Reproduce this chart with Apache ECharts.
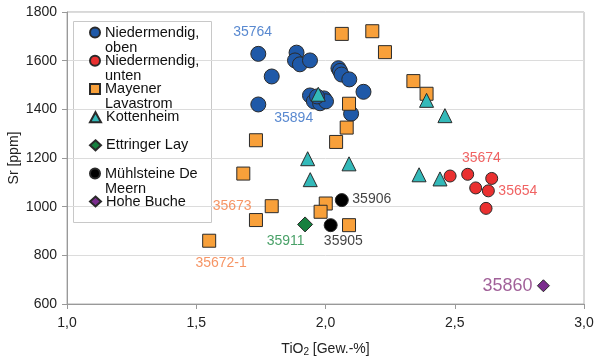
<!DOCTYPE html>
<html>
<head>
<meta charset="utf-8">
<script src="https://cdn.jsdelivr.net/npm/echarts@6/dist/echarts.min.js"></script>
<style>html,body{margin:0;padding:0;background:#fff}#c{width:600px;height:359px}</style>
</head>
<body>
<div id="c"></div>
<script>
// ---- data (TiO2 [Gew.-%], Sr [ppm]) ----
const nmOben = [[1.740,1628],[1.888,1633],[1.882,1601],[1.901,1585],[1.940,1601],[1.792,1535],[2.050,1569],[2.056,1558],[2.062,1543],[2.092,1523],[2.147,1472],[1.740,1420],[1.940,1457],[1.955,1433],[1.979,1425],[1.994,1445],[2.002,1433],[1.967,1453],[2.099,1382]];
const nmUnten = [[2.482,1126],[2.550,1133],[2.643,1116],[2.581,1077],[2.630,1065],[2.621,993]];
const mayener = [[2.063,1710],[2.181,1721],[2.230,1635],[2.340,1516],[2.391,1464],[2.091,1423],[2.082,1325],[1.731,1273],[2.041,1266],[1.682,1136],[1.792,1002],[2.001,1013],[1.981,979],[2.091,924],[1.731,945],[1.550,860]];
const kottenheim = [[1.972,1462],[2.391,1437],[2.462,1374],[1.931,1197],[2.091,1176],[1.941,1111],[2.362,1131],[2.443,1114]];
const ettringer = [[1.921,927]];
const muehlsteine = [[2.063,1027],[2.020,924]];
const hoheBuche = [[2.843,675]];
const seriesNames = ['Niedermendig, oben','Niedermendig, unten','Mayener Lavastrom','Kottenheim','Ettringer Lay','Mühlsteine De Meern','Hohe Buche'];
const legendLines = [['Niedermendig,','oben'],['Niedermendig,','unten'],['Mayener','Lavastrom'],['Kottenheim',' '],['Ettringer Lay',' '],['Mühlsteine De','Meern'],['Hohe Buche',' ']];
const annotations = [[1.718,1716,'35764'],[1.877,1363,'35894'],[1.639,1003,'35673'],[1.596,768,'35672-1'],[1.846,860,'35911'],[2.069,858,'35905'],[2.179,1030,'35906'],[2.603,1198,'35674'],[2.744,1065,'35654'],[2.704,675,'35860']];
const xTicks = [1.0,1.5,2.0,2.5,3.0];
const yTicks = [600,800,1000,1200,1400,1600,1800];

// ---- styles ----
const FONT = 'Liberation Sans, Arial, sans-serif';
const seriesStyle = [
  {symbol:'circle', size:15, color:'#1f59a8', icon:'circle', iw:10},
  {symbol:'circle', size:12, color:'#ea3030', icon:'circle', iw:10},
  {symbol:'rect', size:13, color:'#f8a03a', icon:'rect', iw:10},
  {symbol:'triangle', size:14, color:'#33b9b9', icon:'triangle', iw:11},
  {symbol:'diamond', size:15, color:'#16803f', icon:'diamond', iw:11},
  {symbol:'circle', size:13, color:'#000000', icon:'circle', iw:10},
  {symbol:'diamond', size:12, color:'#7b2d8e', icon:'diamond', iw:11}
];
const labelStyle = {
  '35764':{c:'#2f6cc4',s:14}, '35894':{c:'#2f6cc4',s:14},
  '35673':{c:'#f47b3e',s:14}, '35672-1':{c:'#f47b3e',s:14},
  '35911':{c:'#1b8a42',s:14}, '35905':{c:'#111111',s:14}, '35906':{c:'#111111',s:14},
  '35674':{c:'#ec3b3b',s:14}, '35654':{c:'#ec3b3b',s:14},
  '35860':{c:'#8a3a80',s:18}
};
const seriesData = [nmOben, nmUnten, mayener, kottenheim, ettringer, muehlsteine, hoheBuche];
const legendCenters = [32.5, 60.8, 89, 117.2, 145.3, 173.5, 201.5];

const series = seriesData.map((d,i)=>({
  type:'scatter', name:seriesNames[i], data:d,
  symbol:seriesStyle[i].symbol, symbolSize:seriesStyle[i].size,
  itemStyle:{color:seriesStyle[i].color, borderColor:'#2a2a2a', borderWidth:1, opacity:1},
  emphasis:{disabled:true}
}));
series.push({
  type:'scatter', name:'labels', silent:true, symbolSize:0, z:5,
  data: annotations.map(a=>({value:[a[0],a[1]], name:a[2],
    label:{show:true, position:'inside', formatter:a[2], color:labelStyle[a[2]].c, fontSize:labelStyle[a[2]].s, fontFamily:FONT}})),
  label:{show:true}
});

const legends = seriesNames.map((n,i)=>({
  data:[{name:n, icon:seriesStyle[i].icon}],
  orient:'vertical', left:89, top: legendCenters[i]-22.5, padding:0,
  itemWidth:seriesStyle[i].iw, itemHeight:10, selectedMode:false,
  formatter: ()=> ' \n' + legendLines[i].join('\n'),
  textStyle:{fontSize:14.5, lineHeight:15, color:'#111', fontFamily:FONT}
}));

const chart = echarts.init(document.getElementById('c'), null, {renderer:'canvas'});
chart.setOption({
  animation:false,
  backgroundColor:'#fff',
  textStyle:{fontFamily:FONT},
  grid:{left:67, right:16, top:12, bottom:55, containLabel:false, outerBoundsMode:'none', show:true, borderColor:'#b0b0b0', borderWidth:1},
  xAxis:{type:'value', min:xTicks[0], max:xTicks[xTicks.length-1], interval:0.5,
    axisLine:{show:true, lineStyle:{color:'#999'}},
    axisTick:{show:true, inside:false, length:5, lineStyle:{color:'#999'}},
    splitLine:{show:false},
    axisLabel:{fontSize:14, color:'#222', margin:12, fontFamily:FONT, formatter:v=>v.toFixed(1).replace('.',',')},
    name:'TiO{sub|2} [Gew.-%]', nameLocation:'middle', nameGap:37, nameMoveOverlap:false,
    nameTextStyle:{fontSize:14, color:'#222', fontFamily:FONT, rich:{sub:{fontSize:10, verticalAlign:'bottom', padding:[6,0,0,0], color:'#222', fontFamily:FONT}}}
  },
  yAxis:{type:'value', min:yTicks[0], max:yTicks[yTicks.length-1], interval:200,
    axisLine:{show:true, lineStyle:{color:'#999'}},
    axisTick:{show:true, inside:false, length:5, lineStyle:{color:'#999'}},
    splitLine:{show:true, lineStyle:{color:'#dcdcdc'}},
    axisLabel:{fontSize:14, color:'#222', margin:10, fontFamily:FONT, formatter:v=>String(v)},
    name:'Sr [ppm]', nameLocation:'middle', nameGap:46, nameRotate:90, nameMoveOverlap:false,
    nameTextStyle:{fontSize:14, color:'#222', fontFamily:FONT}
  },
  graphic:[{type:'rect', z:-1, shape:{x:73.5, y:21.5, width:138, height:201}, style:{fill:'#fff', stroke:'#c8c8c8', lineWidth:1}}],
  legend:legends,
  series:series
});
</script>
</body>
</html>
